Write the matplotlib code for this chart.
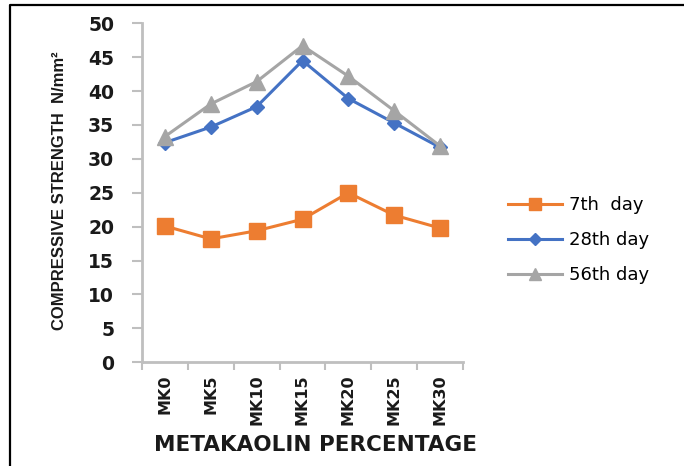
import matplotlib
matplotlib.use('Agg')
import matplotlib.pyplot as plt
import numpy as np
from matplotlib.lines import Line2D
from matplotlib import font_manager

# compressive strength by metakaolin replacement level
mixes = ['MK0', 'MK5', 'MK10', 'MK15', 'MK20', 'MK25', 'MK30']
day7 = [20.1, 18.2, 19.4, 21.1, 25.0, 21.7, 19.8]
day28 = [32.4, 34.7, 37.7, 44.5, 38.9, 35.3, 31.7]
day56 = [33.3, 38.1, 41.4, 46.7, 42.2, 37.1, 31.9]
series_names = ['7th  day', '28th day', '56th day']

axis_grey = '#BFBFBF'
text_col = '#1a1a1a'

installed = {f.name for f in font_manager.fontManager.ttflist}
narrow = 'Liberation Sans Narrow' if 'Liberation Sans Narrow' in installed else 'Liberation Sans'

fig = plt.figure(figsize=(6.84, 4.66), dpi=100)
ax = fig.add_axes([142 / 684, 1 - 362.3 / 466, 321 / 684, 339 / 466])

x = np.arange(len(mixes))
ax.plot(x, day7, color='#ED7D31', marker='s', markersize=11, linewidth=2.2, label=series_names[0])
ax.plot(x, day28, color='#4472C4', marker='D', markersize=7.5, linewidth=2.2, label=series_names[1])
ax.plot(x, day56, color='#A5A5A5', marker='^', markersize=11, linewidth=2.2, label=series_names[2])

ax.set_xlim(-0.5, len(mixes) - 0.5)
ax.set_ylim(0, 50)
ax.set_yticks(np.arange(0, 51, 5))

# tick marks sit between categories, labels at the category centres
ax.set_xticks(np.arange(-0.5, len(mixes), 1.0))
ax.set_xticklabels([])
ax.set_xticks(x, minor=True)
ax.set_xticklabels(mixes, minor=True, rotation=90, fontweight='bold', fontsize=11.5, color=text_col)
ax.tick_params(axis='x', which='major', length=6, width=1.5, color=axis_grey, direction='out')
ax.tick_params(axis='x', which='minor', length=0, pad=9)
ax.tick_params(axis='y', length=7, width=1.5, color=axis_grey, direction='out', pad=13)
for lbl in ax.get_yticklabels():
    lbl.set_fontweight('bold')
    lbl.set_fontsize(13.5)
    lbl.set_color(text_col)

for side in ['top', 'right']:
    ax.spines[side].set_visible(False)
for side in ['left', 'bottom']:
    ax.spines[side].set_color(axis_grey)
    ax.spines[side].set_linewidth(2)

ax.set_ylabel('COMPRESSIVE STRENGTH  N/mm²', family=[narrow, 'DejaVu Sans'],
              fontweight='bold', fontsize=12, color=text_col)
ax.yaxis.set_label_coords(-0.235, 0.505)
ax.set_xlabel('METAKAOLIN PERCENTAGE', fontweight='bold', fontsize=15.5, color=text_col)
ax.xaxis.set_label_coords(0.54, -0.215)

leg = ax.legend(loc='center left', bbox_to_anchor=(492 / 684, 1 - 240 / 466), bbox_transform=fig.transFigure,
                frameon=False, fontsize=13, handlelength=3.0, labelspacing=0.95, handletextpad=0.35)
for h, ms in zip(leg.legend_handles, [9, 6.5, 9]):
    h.set_markersize(ms)

# frame line along the left and top edges
fig.add_artist(Line2D([10 / 684, 10 / 684, 1.0], [0.0, 1 - 5 / 466, 1 - 5 / 466],
                      transform=fig.transFigure, color='black', linewidth=1.6))

fig.savefig('out.png', dpi=100)
